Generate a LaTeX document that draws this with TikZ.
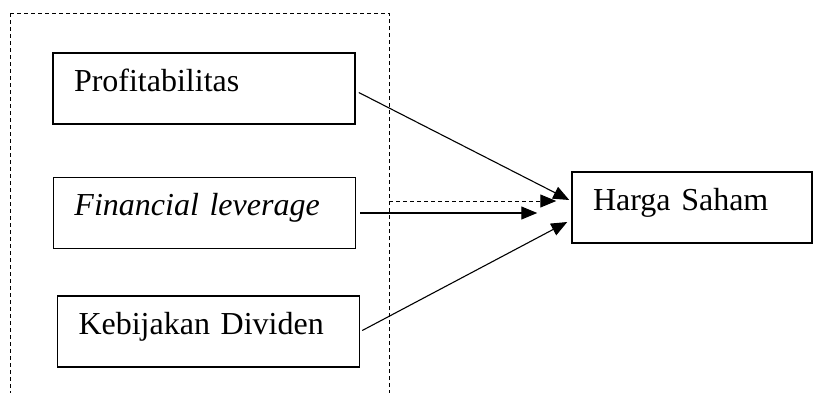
\documentclass[tikz,border=0pt]{standalone}
\usepackage{fontspec}
\setmainfont{Liberation Serif}
\usepackage{tikz}
\usetikzlibrary{arrows.meta,positioning,calc}
\tikzset{
  var/.style={draw, line width=0.75pt, align=left, inner xsep=10.5pt, inner ysep=0pt,
    text height=0.7em, text depth=0.41em, minimum height=35.5pt,
    font=\fontsize{16}{19}\selectfont},
  indep/.style={var, text width=130pt},
  dep/.style={var, text width=99pt},
  frame/.style={draw, line width=0.5pt, dash pattern=on 2pt off 1.5pt},
  arrow/.style={-{Triangle[length=8pt, width=6.5pt]}, line width=0.55pt}
}
\begin{document}
\begin{tikzpicture}[x=0.5pt, y=-0.5pt]
    \useasboundingbox (0,0) rectangle (815,392);
    % dashed frame round the independent variables
    \draw[frame] (10,13) rectangle (389,420);
    \coordinate (frame-out) at (389,201);

    % independent variables
    \node[indep] (prof) at (204,88.5) {Profitabilitas};
    \node[indep] (lev) at (204.5,213) {\itshape Financial leverage};
    \node[indep] (div) at (208.5,331.5) {Kebijakan Dividen};
    % dependent variable
    \node[dep] (price) at (692,207.5) {Harga Saham};

    % arrows
    \draw[arrow] ([shift={(1.5pt,-2pt)}]prof.east) -- ([shift={(-1pt,3.75pt)}]price.west);
    \draw[arrow] ([xshift=2pt]lev.east) -- ([xshift=-17pt]lev.east -| price.west);
    \draw[arrow] ([shift={(1pt,0.5pt)}]div.east) -- ([shift={(-2pt,-7.25pt)}]price.west);
    \draw[arrow, frame] (frame-out) -- ([xshift=-7.5pt]frame-out -| price.west);
\end{tikzpicture}
\end{document}
